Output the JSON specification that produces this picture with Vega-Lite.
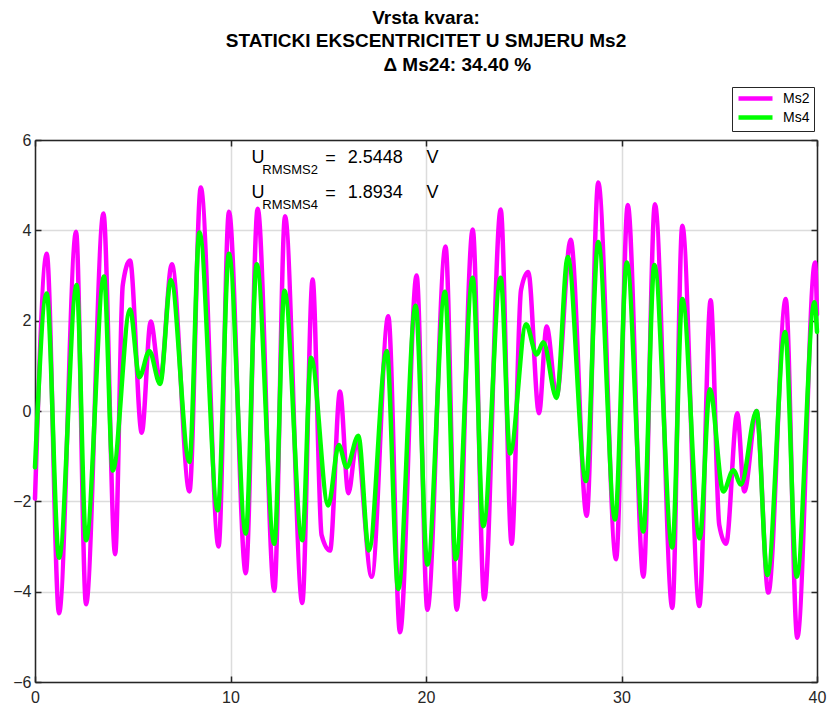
{
  "$schema": "https://vega.github.io/schema/vega-lite/v6.json",
  "width": 782,
  "height": 542,
  "autosize": {"type": "none"},
  "padding": {"left": 35, "top": 140, "right": 11, "bottom": 29},
  "background": "white",
  "config": {
    "view": {"stroke": null},
    "font": "Liberation Sans"
  },
  "title": {
    "text": ["Vrsta kvara:", "STATICKI EKSCENTRICITET U SMJERU Ms2"],
    "font": "Liberation Sans",
    "fontSize": 19,
    "fontWeight": "bold",
    "color": "#000000",
    "lineHeight": 23,
    "anchor": "middle",
    "baseline": "bottom",
    "offset": -14
  },
  "datasets": {
    "sig": [
      {"t": 0, "v": -1.94, "s": "Ms2"},
      {"t": 0.60, "v": 3.48, "s": "Ms2"},
      {"t": 1.23, "v": -4.48, "s": "Ms2"},
      {"t": 2.10, "v": 3.97, "s": "Ms2"},
      {"t": 2.61, "v": -4.28, "s": "Ms2"},
      {"t": 3.50, "v": 4.37, "s": "Ms2"},
      {"t": 4.10, "v": -3.17, "s": "Ms2"},
      {"t": 4.49, "v": 2.79, "s": "Ms2"},
      {"t": 4.86, "v": 3.33, "s": "Ms2"},
      {"t": 5.46, "v": -0.48, "s": "Ms2"},
      {"t": 5.92, "v": 1.98, "s": "Ms2"},
      {"t": 6.40, "v": 0.68, "s": "Ms2"},
      {"t": 7.00, "v": 3.25, "s": "Ms2"},
      {"t": 7.90, "v": -1.78, "s": "Ms2"},
      {"t": 8.48, "v": 4.95, "s": "Ms2"},
      {"t": 9.39, "v": -3.00, "s": "Ms2"},
      {"t": 9.92, "v": 4.41, "s": "Ms2"},
      {"t": 10.78, "v": -3.59, "s": "Ms2"},
      {"t": 11.39, "v": 4.48, "s": "Ms2"},
      {"t": 12.24, "v": -3.98, "s": "Ms2"},
      {"t": 12.79, "v": 4.31, "s": "Ms2"},
      {"t": 13.67, "v": -4.25, "s": "Ms2"},
      {"t": 14.20, "v": 2.91, "s": "Ms2"},
      {"t": 14.66, "v": -2.75, "s": "Ms2"},
      {"t": 15.09, "v": -3.09, "s": "Ms2"},
      {"t": 15.60, "v": 0.43, "s": "Ms2"},
      {"t": 16.03, "v": -1.82, "s": "Ms2"},
      {"t": 16.45, "v": -0.71, "s": "Ms2"},
      {"t": 17.22, "v": -3.67, "s": "Ms2"},
      {"t": 18.07, "v": 2.10, "s": "Ms2"},
      {"t": 18.67, "v": -4.90, "s": "Ms2"},
      {"t": 19.52, "v": 3.00, "s": "Ms2"},
      {"t": 20.07, "v": -4.40, "s": "Ms2"},
      {"t": 21.00, "v": 3.64, "s": "Ms2"},
      {"t": 21.57, "v": -4.40, "s": "Ms2"},
      {"t": 22.39, "v": 4.02, "s": "Ms2"},
      {"t": 22.98, "v": -4.17, "s": "Ms2"},
      {"t": 23.82, "v": 4.46, "s": "Ms2"},
      {"t": 24.38, "v": -2.94, "s": "Ms2"},
      {"t": 24.86, "v": 2.68, "s": "Ms2"},
      {"t": 25.23, "v": 3.08, "s": "Ms2"},
      {"t": 25.78, "v": -0.05, "s": "Ms2"},
      {"t": 26.17, "v": 1.87, "s": "Ms2"},
      {"t": 26.68, "v": 0.33, "s": "Ms2"},
      {"t": 27.40, "v": 3.79, "s": "Ms2"},
      {"t": 28.22, "v": -2.32, "s": "Ms2"},
      {"t": 28.81, "v": 5.06, "s": "Ms2"},
      {"t": 29.72, "v": -3.28, "s": "Ms2"},
      {"t": 30.32, "v": 4.56, "s": "Ms2"},
      {"t": 31.12, "v": -3.67, "s": "Ms2"},
      {"t": 31.71, "v": 4.58, "s": "Ms2"},
      {"t": 32.60, "v": -4.36, "s": "Ms2"},
      {"t": 33.11, "v": 4.10, "s": "Ms2"},
      {"t": 33.98, "v": -4.32, "s": "Ms2"},
      {"t": 34.56, "v": 2.45, "s": "Ms2"},
      {"t": 35.00, "v": -2.52, "s": "Ms2"},
      {"t": 35.35, "v": -2.94, "s": "Ms2"},
      {"t": 35.92, "v": -0.05, "s": "Ms2"},
      {"t": 36.28, "v": -1.78, "s": "Ms2"},
      {"t": 36.91, "v": 0.00, "s": "Ms2"},
      {"t": 37.51, "v": -4.02, "s": "Ms2"},
      {"t": 38.40, "v": 2.48, "s": "Ms2"},
      {"t": 38.99, "v": -5.02, "s": "Ms2"},
      {"t": 39.90, "v": 3.29, "s": "Ms2"},
      {"t": 40.00, "v": 2.14, "s": "Ms2"},
      {"t": 0, "v": -1.25, "s": "Ms4"},
      {"t": 0.60, "v": 2.60, "s": "Ms4"},
      {"t": 1.23, "v": -3.25, "s": "Ms4"},
      {"t": 2.13, "v": 2.79, "s": "Ms4"},
      {"t": 2.61, "v": -2.86, "s": "Ms4"},
      {"t": 3.53, "v": 2.98, "s": "Ms4"},
      {"t": 3.98, "v": -1.32, "s": "Ms4"},
      {"t": 4.86, "v": 2.25, "s": "Ms4"},
      {"t": 5.34, "v": 0.75, "s": "Ms4"},
      {"t": 5.85, "v": 1.33, "s": "Ms4"},
      {"t": 6.40, "v": 0.60, "s": "Ms4"},
      {"t": 6.95, "v": 2.90, "s": "Ms4"},
      {"t": 7.90, "v": -1.13, "s": "Ms4"},
      {"t": 8.41, "v": 3.95, "s": "Ms4"},
      {"t": 9.35, "v": -2.20, "s": "Ms4"},
      {"t": 9.92, "v": 3.48, "s": "Ms4"},
      {"t": 10.78, "v": -2.71, "s": "Ms4"},
      {"t": 11.34, "v": 3.25, "s": "Ms4"},
      {"t": 12.24, "v": -2.94, "s": "Ms4"},
      {"t": 12.76, "v": 2.66, "s": "Ms4"},
      {"t": 13.67, "v": -2.86, "s": "Ms4"},
      {"t": 14.12, "v": 1.18, "s": "Ms4"},
      {"t": 15.00, "v": -2.09, "s": "Ms4"},
      {"t": 15.54, "v": -0.75, "s": "Ms4"},
      {"t": 15.94, "v": -1.25, "s": "Ms4"},
      {"t": 16.54, "v": -0.55, "s": "Ms4"},
      {"t": 17.08, "v": -3.09, "s": "Ms4"},
      {"t": 17.99, "v": 1.33, "s": "Ms4"},
      {"t": 18.58, "v": -3.94, "s": "Ms4"},
      {"t": 19.47, "v": 2.33, "s": "Ms4"},
      {"t": 20.07, "v": -3.40, "s": "Ms4"},
      {"t": 20.97, "v": 2.64, "s": "Ms4"},
      {"t": 21.52, "v": -3.28, "s": "Ms4"},
      {"t": 22.39, "v": 2.95, "s": "Ms4"},
      {"t": 22.93, "v": -2.55, "s": "Ms4"},
      {"t": 23.82, "v": 2.95, "s": "Ms4"},
      {"t": 24.30, "v": -0.94, "s": "Ms4"},
      {"t": 25.12, "v": 1.92, "s": "Ms4"},
      {"t": 25.66, "v": 1.25, "s": "Ms4"},
      {"t": 26.00, "v": 1.52, "s": "Ms4"},
      {"t": 26.68, "v": 0.29, "s": "Ms4"},
      {"t": 27.25, "v": 3.41, "s": "Ms4"},
      {"t": 28.18, "v": -1.55, "s": "Ms4"},
      {"t": 28.81, "v": 3.74, "s": "Ms4"},
      {"t": 29.67, "v": -2.40, "s": "Ms4"},
      {"t": 30.27, "v": 3.29, "s": "Ms4"},
      {"t": 31.12, "v": -2.67, "s": "Ms4"},
      {"t": 31.68, "v": 3.23, "s": "Ms4"},
      {"t": 32.60, "v": -3.02, "s": "Ms4"},
      {"t": 33.11, "v": 2.48, "s": "Ms4"},
      {"t": 34.00, "v": -2.82, "s": "Ms4"},
      {"t": 34.52, "v": 0.48, "s": "Ms4"},
      {"t": 35.21, "v": -1.78, "s": "Ms4"},
      {"t": 35.72, "v": -1.31, "s": "Ms4"},
      {"t": 36.11, "v": -1.63, "s": "Ms4"},
      {"t": 36.91, "v": 0.00, "s": "Ms4"},
      {"t": 37.46, "v": -3.63, "s": "Ms4"},
      {"t": 38.37, "v": 1.75, "s": "Ms4"},
      {"t": 38.96, "v": -3.67, "s": "Ms4"},
      {"t": 39.87, "v": 2.41, "s": "Ms4"},
      {"t": 40.00, "v": 1.75, "s": "Ms4"}
    ],
    "one": [{}]
  },
  "resolve": {"axis": {"x": "independent", "y": "independent"}},
  "layer": [
    {
      "data": {"name": "sig"},
      "mark": {"type": "line", "interpolate": "monotone", "strokeWidth": 4.5, "strokeJoin": "round", "strokeCap": "round"},
      "encoding": {
        "x": {
          "field": "t", "type": "quantitative",
          "scale": {"domain": [0, 40], "nice": false, "zero": false},
          "axis": {
            "orient": "bottom", "values": [0, 10, 20, 30, 40], "title": null,
            "grid": true, "gridColor": "#dcdcdc", "gridWidth": 1.5,
            "domainColor": "#262626", "domainWidth": 1.5,
            "tickColor": "#262626", "tickWidth": 1.5, "tickSize": -6,
            "labelFontSize": 16, "labelColor": "#262626", "labelFont": "Liberation Sans", "labelPadding": 13,
            "labelFlush": false, "labelOverlap": false
          }
        },
        "y": {
          "field": "v", "type": "quantitative",
          "scale": {"domain": [-6, 6], "nice": false, "zero": false},
          "axis": {
            "orient": "left", "values": [-6, -4, -2, 0, 2, 4, 6], "title": null,
            "grid": true, "gridColor": "#dcdcdc", "gridWidth": 1.5,
            "domainColor": "#262626", "domainWidth": 1.5,
            "tickColor": "#262626", "tickWidth": 1.5, "tickSize": -6,
            "labelFontSize": 16, "labelColor": "#262626", "labelFont": "Liberation Sans", "labelPadding": 10,
            "labelFlush": false, "labelOverlap": false
          }
        },
        "color": {
          "field": "s", "type": "nominal",
          "scale": {"domain": ["Ms2", "Ms4"], "range": ["#ff00ff", "#00ff00"]},
          "legend": {
            "title": null, "orient": "none", "legendX": 697, "legendY": -53,
            "strokeColor": "#262626", "fillColor": "white", "padding": 4,
            "symbolType": "M-3.4,0H3.4", "symbolSize": 100, "symbolStrokeWidth": 4.5, "symbolOffset": 12,
            "labelFontSize": 14, "labelFont": "Liberation Sans", "labelColor": "#000000",
            "labelOffset": 20, "rowPadding": 0
          }
        }
      }
    },
    {
      "data": {"name": "one"},
      "mark": {"type": "text", "align": "center", "baseline": "middle", "fontSize": 19, "fontWeight": "bold", "font": "Liberation Sans", "color": "#000000", "clip": false},
      "encoding": {
        "x": {"datum": 21.6, "type": "quantitative", "axis": null},
        "y": {"datum": 7.67, "type": "quantitative", "axis": null},
        "text": {"value": "Δ Ms24: 34.40 %"}
      }
    },
    {
      "data": {"name": "one"},
      "mark": {"type": "text", "align": "left", "baseline": "middle", "fontSize": 18, "font": "Liberation Sans", "color": "#000000"},
      "encoding": {
        "x": {"datum": 11.08, "type": "quantitative", "axis": {
          "orient": "top", "values": [0, 10, 20, 30, 40], "title": null, "labels": false, "grid": false,
          "domainColor": "#262626", "domainWidth": 1.5, "tickColor": "#262626", "tickWidth": 1.5, "tickSize": -6}},
        "y": {"datum": 5.6, "type": "quantitative", "axis": {
          "orient": "right", "values": [-6, -4, -2, 0, 2, 4, 6], "title": null, "labels": false, "grid": false,
          "domainColor": "#262626", "domainWidth": 1.5, "tickColor": "#262626", "tickWidth": 1.5, "tickSize": -6}},
        "text": {"value": "U"}
      }
    },
    {
      "data": {"name": "one"},
      "mark": {"type": "text", "align": "left", "baseline": "middle", "fontSize": 13, "font": "Liberation Sans", "color": "#000000"},
      "encoding": {
        "x": {"datum": 11.63, "type": "quantitative", "axis": null},
        "y": {"datum": 5.33, "type": "quantitative", "axis": null},
        "text": {"value": "RMSMS2"}
      }
    },
    {
      "data": {"name": "one"},
      "mark": {"type": "text", "align": "left", "baseline": "middle", "fontSize": 18, "font": "Liberation Sans", "color": "#000000"},
      "encoding": {
        "x": {"datum": 14.85, "type": "quantitative", "axis": null},
        "y": {"datum": 5.58, "type": "quantitative", "axis": null},
        "text": {"value": "="}
      }
    },
    {
      "data": {"name": "one"},
      "mark": {"type": "text", "align": "left", "baseline": "middle", "fontSize": 18, "font": "Liberation Sans", "color": "#000000"},
      "encoding": {
        "x": {"datum": 16.0, "type": "quantitative", "axis": null},
        "y": {"datum": 5.6, "type": "quantitative", "axis": null},
        "text": {"value": "2.5448"}
      }
    },
    {
      "data": {"name": "one"},
      "mark": {"type": "text", "align": "left", "baseline": "middle", "fontSize": 18, "font": "Liberation Sans", "color": "#000000"},
      "encoding": {
        "x": {"datum": 20.03, "type": "quantitative", "axis": null},
        "y": {"datum": 5.6, "type": "quantitative", "axis": null},
        "text": {"value": "V"}
      }
    },
    {
      "data": {"name": "one"},
      "mark": {"type": "text", "align": "left", "baseline": "middle", "fontSize": 18, "font": "Liberation Sans", "color": "#000000"},
      "encoding": {
        "x": {"datum": 11.08, "type": "quantitative", "axis": null},
        "y": {"datum": 4.82, "type": "quantitative", "axis": null},
        "text": {"value": "U"}
      }
    },
    {
      "data": {"name": "one"},
      "mark": {"type": "text", "align": "left", "baseline": "middle", "fontSize": 13, "font": "Liberation Sans", "color": "#000000"},
      "encoding": {
        "x": {"datum": 11.63, "type": "quantitative", "axis": null},
        "y": {"datum": 4.56, "type": "quantitative", "axis": null},
        "text": {"value": "RMSMS4"}
      }
    },
    {
      "data": {"name": "one"},
      "mark": {"type": "text", "align": "left", "baseline": "middle", "fontSize": 18, "font": "Liberation Sans", "color": "#000000"},
      "encoding": {
        "x": {"datum": 14.85, "type": "quantitative", "axis": null},
        "y": {"datum": 4.8, "type": "quantitative", "axis": null},
        "text": {"value": "="}
      }
    },
    {
      "data": {"name": "one"},
      "mark": {"type": "text", "align": "left", "baseline": "middle", "fontSize": 18, "font": "Liberation Sans", "color": "#000000"},
      "encoding": {
        "x": {"datum": 16.0, "type": "quantitative", "axis": null},
        "y": {"datum": 4.82, "type": "quantitative", "axis": null},
        "text": {"value": "1.8934"}
      }
    },
    {
      "data": {"name": "one"},
      "mark": {"type": "text", "align": "left", "baseline": "middle", "fontSize": 18, "font": "Liberation Sans", "color": "#000000"},
      "encoding": {
        "x": {"datum": 20.03, "type": "quantitative", "axis": null},
        "y": {"datum": 4.82, "type": "quantitative", "axis": null},
        "text": {"value": "V"}
      }
    }
  ]
}
